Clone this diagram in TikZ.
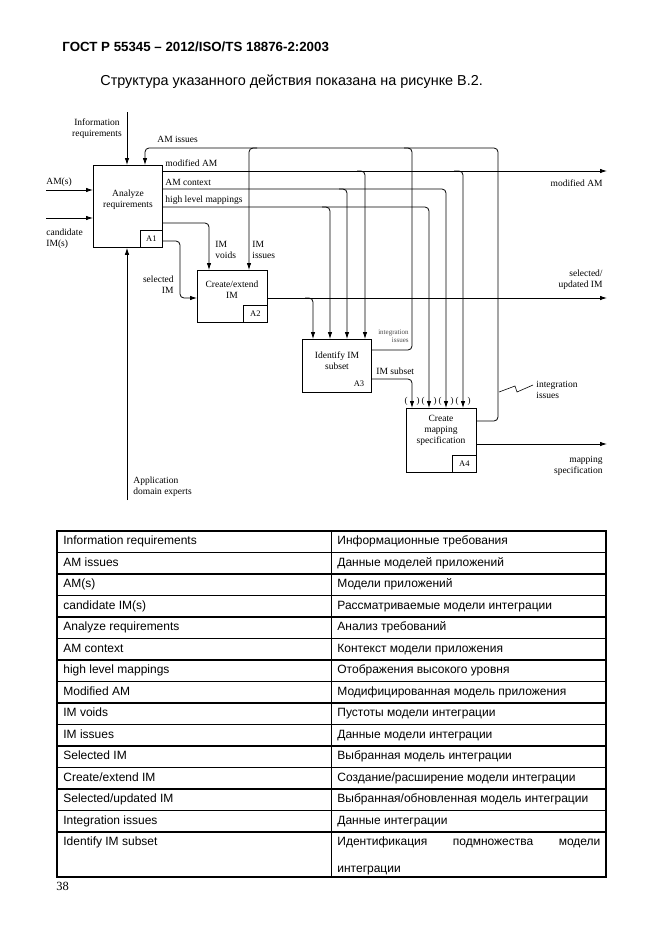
\documentclass[tikz,border=0pt]{standalone}
\usepackage{fontspec}
\setmainfont{Liberation Serif}
\newfontfamily\arialfont{Liberation Sans}
\usetikzlibrary{arrows.meta, calc, positioning}

\begin{document}
\begin{tikzpicture}[x=1pt, y=-1pt, line width=0.8pt,
	every node/.style={font=\fontsize{9.5}{11}\selectfont, inner sep=0pt},
	fbox/.style={draw, anchor=north west},
	tagbox/.style={draw, anchor=south east, minimum width=22pt, minimum height=17pt, font=\fontsize{8.5}{10}\selectfont},
	flow/.style={-{Latex[length=7pt,width=4.5pt]}},
	curved/.style={rounded corners=4pt},
	cell/.style={anchor=base west, font=\arialfont\fontsize{12}{14}\selectfont}]
	\useasboundingbox (0,0) rectangle (662,935);
	\fill[white] (0,0) rectangle (662,935);

	% heading
	\node[anchor=west, font=\arialfont\bfseries\fontsize{13.3}{15}\selectfont] (title) at (62,47) {ГОСТ Р 55345 – 2012/ISO/TS 18876-2:2003};
	\node[anchor=west, font=\arialfont\fontsize{14.4}{16}\selectfont] (intro) at (100,82) {Структура указанного действия показана на рисунке В.2.};

	% activity boxes
	\node[fbox, minimum width=69pt, minimum height=82pt] (A1) at (93,165) {};
	\node[fbox, minimum width=70pt, minimum height=52pt] (A2) at (197,270) {};
	\node[fbox, minimum width=69pt, minimum height=53pt] (A3) at (302,339) {};
	\node[fbox, minimum width=70pt, minimum height=64pt] (A4) at (406,408) {};
	\node[align=center] (t1) at (128,200) {Analyze\\requirements};
	\node[align=center] (t2) at (232,290) {Create/extend\\IM};
	\node[align=center] (t3) at (337,361) {Identify IM\\subset};
	\node[align=center] (t4) at (441,430) {Create\\mapping\\specification};
	\node[tagbox] (n1) at (A1.south east) {A1};
	\node[tagbox, minimum width=24pt] (n2) at (A2.south east) {A2};
	\node[font=\fontsize{8.5}{10}\selectfont] (n3) at (359,384) {A3};
	\node[tagbox, minimum width=24pt] (n4) at (A4.south east) {A4};

	% free ends
	\coordinate (infoIn) at (127,112);
	\coordinate (amIn) at (46,190);
	\coordinate (candIn) at (46,218);
	\coordinate (expIn) at (127,500);
	\coordinate (modOut) at (607,171);
	\coordinate (selOut) at (607,298);
	\coordinate (mapOut) at (607,444);

	% inputs, control, mechanism of A1
	\draw[flow] (infoIn) -- (A1.north -| infoIn);
	\draw[flow] (amIn) -- (A1.west |- amIn);
	\draw[flow] (candIn) -- (A1.west |- candIn);
	\draw[flow] (expIn) -- (A1.south -| expIn);

	% feedback bus (AM issues)
	\draw[flow, curved] (A4.east |- 0,421) -| (498,148) -- (145,148) -- (A1.north -| 145,0);
	\draw[curved] (A3.east |- 0,350) -| (412,148) -- (404,148);
	\draw[flow, curved] (257,148) -- (249,148) -- (A2.north -| 249,0);

	% outputs of A1
	\draw[flow] (A1.east |- modOut) -- (modOut);
	\draw[flow, curved] (357,171) -- (365,171) -- (A3.north -| 365,0);
	\draw[flow, curved] (454,171) -- (463,171) -- (A4.north -| 463,0);
	\draw[flow, curved] (A1.east |- 0,189) -- (446,189) -- (A4.north -| 446,0);
	\draw[flow, curved] (339,189) -- (347,189) -- (A3.north -| 347,0);
	\draw[flow, curved] (A1.east |- 0,207) -- (429,207) -- (A4.north -| 429,0);
	\draw[flow, curved] (322,207) -- (330,207) -- (A3.north -| 330,0);
	\draw[flow, curved] (A1.east |- 0,223) -| (A2.north -| 209,0);
	\draw[flow, curved] (A1.east |- 0,241) -- (180,241) |- (A2.west |- 0,298);

	% outputs of A2, A3, A4
	\draw[flow] (A2.east |- selOut) -- (selOut);
	\draw[flow, curved] (305,298) -- (313,298) -- (A3.north -| 313,0);
	\draw[flow, curved] (A3.east |- 0,379) -| (A4.north -| 412,0);
	\draw[flow] (A4.east |- mapOut) -- (mapOut);

	% tunnelled arrows
	\foreach \x in {412,429,446,463} {
		\node[font=\fontsize{9}{10}\selectfont] (pl\x) at (\x-6,401) {(};
		\node[font=\fontsize{9}{10}\selectfont] (pr\x) at (\x+6,401) {)};
	}

	% squiggle to integration issues
	\draw[line width=0.6pt] (499,392) -- (515,386) -- (517,392) -- (533,385);

	% arrow labels
	\node[align=center] (lInfo) at (97,129) {Information\\requirements};
	\node[anchor=west] (lAMi) at (157,139) {AM issues};
	\node[anchor=west] (lMod) at (165,163) {modified AM};
	\node[anchor=west] (lCtx) at (165,182) {AM context};
	\node[anchor=west] (lHigh) at (165,200) {high level mappings};
	\node[anchor=west] (lAMs) at (46,182) {AM(s)};
	\node[anchor=west, align=left] (lCand) at (46,239) {candidate\\IM(s)};
	\node[anchor=west, align=left] (lVoid) at (215,250) {IM\\voids};
	\node[anchor=west, align=left] (lIMi) at (252,250) {IM\\issues};
	\node[anchor=east, align=right] (lSel) at (174,285) {selected\\IM};
	\node[anchor=east, align=right] (lModO) at (603,183) {modified AM};
	\node[anchor=east, align=right] (lSelO) at (603,280) {selected/\\updated IM};
	\node[anchor=east, align=right, font=\fontsize{7}{8}\selectfont, text=black!70] (lInt3) at (409,336) {integration\\issues};
	\node[anchor=west] (lSub) at (376,371) {IM subset};
	\node[anchor=west, align=left] (lInt4) at (536,390) {integration\\issues};
	\node[anchor=east, align=right] (lMap) at (603,466) {mapping\\specification};
	\node[anchor=west, align=left] (lExp) at (133,487) {Application\\domain experts};

	% glossary table
	\draw[line width=1.3pt] (57,531) rectangle (606,877);
	\draw[line width=0.6pt] (331,531) -- (331,877);
	\foreach \k in {1,...,14}
		\draw[line width=1.3pt] (57,531+21.5*\k) -- (606,531+21.5*\k);
	\foreach \en/\ru [count=\i] in {Information requirements/Информационные требования,
		AM issues/Данные моделей приложений,
		AM(s)/Модели приложений,
		candidate IM(s)/Рассматриваемые модели интеграции,
		Analyze requirements/Анализ требований,
		AM context/Контекст модели приложения,
		high level mappings/Отображения высокого уровня,
		Modified AM/Модифицированная модель приложения,
		IM voids/Пустоты модели интеграции,
		IM issues/Данные модели интеграции,
		Selected IM/Выбранная модель интеграции,
		{Create/extend IM}/{Создание/расширение модели интеграции},
		{Selected/updated IM}/{Выбранная/обновленная модель интеграции},
		Integration issues/Данные интеграции} {
		\node[cell] (en\i) at (63,531+21.5*\i-8) {\en};
		\node[cell] (ru\i) at (337,531+21.5*\i-8) {\ru};
	}
	\node[cell] (en15) at (63,845) {Identify IM subset};
	\node[cell, text width=263pt, align=left] (ru15) at (337,845)
		{\hbox to 263pt{Идентификация\hfill подмножества\hfill модели}\\[13pt]интеграции};

	\node[anchor=west, font=\fontsize{12.5}{14}\selectfont] (page) at (56,886) {38};
\end{tikzpicture}
\end{document}
